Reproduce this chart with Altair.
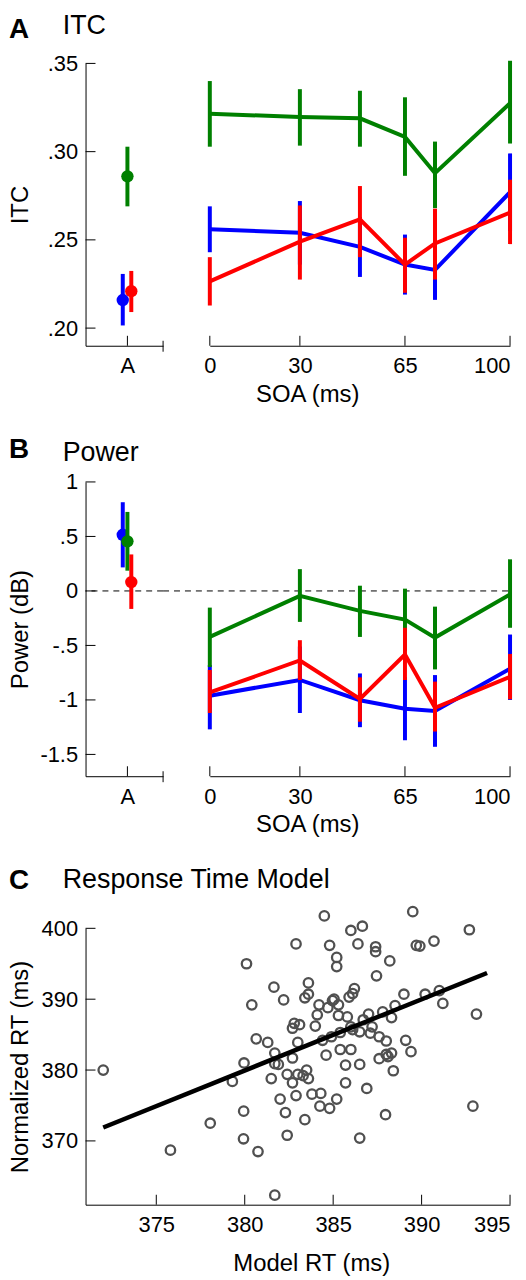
import altair as alt
import pandas as pd

FONT = "Liberation Sans"
conditions = ["Blue", "Green", "Red"]
colors = ["#0000FF", "#008000", "#FF0000"]

# ---------------- data ----------------
soa = [0, 30, 50, 65, 75, 100]
soa_ticks = [0, 30, 65, 100]

itc_blue = [0.256, 0.254, 0.246, 0.236, 0.233, 0.277]
itc_blue_lo = [0.243, 0.236, 0.229, 0.219, 0.216, 0.255]
itc_blue_hi = [0.269, 0.272, 0.263, 0.253, 0.251, 0.299]
itc_green = [0.3215, 0.3196, 0.3189, 0.3083, 0.2878, 0.3275]
itc_green_lo = [0.3028, 0.3034, 0.3028, 0.2863, 0.2680, 0.3046]
itc_green_hi = [0.3400, 0.3354, 0.3345, 0.3308, 0.3057, 0.3515]
itc_red = [0.2265, 0.2490, 0.2616, 0.2360, 0.2480, 0.2655]
itc_red_lo = [0.2128, 0.2275, 0.2402, 0.2200, 0.2275, 0.2476]
itc_red_hi = [0.2402, 0.2695, 0.2805, 0.2512, 0.2677, 0.2841]
itc_A = [0.2159, 0.2860, 0.2209]          # Blue, Green, Red at "A"
itc_A_lo = [0.2015, 0.2690, 0.2091]
itc_A_hi = [0.2307, 0.3028, 0.2324]
itc_ticks = [0.20, 0.25, 0.30, 0.35]

pow_blue = [-0.961, -0.817, -1.003, -1.081, -1.102, -0.713]
pow_blue_lo = [-1.27, -1.12, -1.25, -1.37, -1.43, -1.00]
pow_blue_hi = [-0.68, -0.51, -0.757, -0.79, -0.772, -0.40]
pow_green = [-0.422, -0.045, -0.183, -0.263, -0.428, -0.033]
pow_green_lo = [-0.698, -0.284, -0.422, -0.55, -0.72, -0.338]
pow_green_hi = [-0.153, 0.20, 0.048, 0.021, -0.144, 0.29]
pow_red = [-0.931, -0.638, -0.991, -0.584, -1.072, -0.787]
pow_red_lo = [-1.12, -0.817, -1.20, -0.817, -1.29, -0.994]
pow_red_hi = [-0.725, -0.452, -0.793, -0.338, -0.832, -0.578]
pow_A = [0.515, 0.455, 0.081]
pow_A_lo = [0.216, 0.186, -0.165]
pow_A_hi = [0.814, 0.725, 0.335]
pow_ticks = [-1.5, -1, -0.5, 0, 0.5, 1]

model_rt = [372.0, 375.8, 378.05, 379.3, 379.96, 379.94, 379.93, 380.1, 380.4, 380.65,
            380.75, 381.3, 381.5, 381.65, 381.7, 381.7, 381.9, 381.7, 382.0, 382.2,
            382.3, 382.4, 382.4, 382.7, 382.7, 382.7, 382.8, 382.9, 382.9, 383.0,
            383.1, 383.0, 383.3, 383.4, 383.5, 383.6, 383.6, 383.4, 383.6, 383.8,
            383.99, 384.1, 384.2, 384.3, 384.25, 384.4, 384.5, 384.6, 384.7, 384.8,
            384.8, 384.9, 384.96, 385.05, 385.2, 385.2, 385.2, 385.3, 385.3, 385.4,
            385.4, 385.7, 385.7, 385.8, 385.9, 386.0, 386.0, 386.0, 386.1, 386.2,
            386.1, 386.4, 386.5, 386.5, 386.5, 386.65, 386.7, 386.9, 387.0, 387.1,
            387.2, 387.4, 387.4, 387.45, 387.6, 387.6, 387.8, 387.96, 388.0, 388.0,
            388.1, 388.2, 388.3, 388.3, 388.4, 388.5, 389.0, 389.1, 389.4, 389.5,
            389.7, 389.9, 390.2, 390.7, 391.0, 391.2, 392.7, 392.9, 393.1]
norm_rt = [380.0, 368.7, 372.5, 378.4, 381.0, 374.2, 370.3, 395.0, 389.2, 384.4,
           368.5, 383.9, 378.8, 391.7, 382.4, 380.9, 380.8, 362.35, 375.9, 389.9,
           374.0, 379.4, 370.8, 381.7, 378.2, 385.9, 386.6, 397.8, 376.4, 383.9,
           386.4, 379.4, 379.2, 390.2, 380.0, 390.7, 392.3, 373.0, 378.8, 376.6,
           386.2, 387.8, 389.2, 376.7, 374.9, 384.2, 401.75, 382.1, 388.8, 397.6,
           374.6, 384.7, 389.8, 390.0, 375.9, 395.9, 394.6, 389.2, 387.7, 385.3,
           382.9, 380.7, 378.2, 387.5, 390.3, 399.7, 382.9, 386.1, 390.8, 391.5,
           385.7, 397.8, 380.8, 385.4, 370.4, 400.3, 387.1, 377.4, 387.9, 385.2,
           386.1, 397.4, 396.7, 393.3, 384.7, 381.6, 388.2, 373.7, 384.1, 382.2,
           381.9, 395.4, 387.4, 382.4, 379.9, 389.1, 390.7, 384.2, 382.6, 402.35,
           397.6, 397.5, 390.7, 398.2, 391.2, 389.4, 399.8, 374.9, 387.9]
fit_x = [372.0, 393.7]
fit_y = [371.9, 393.7]
rt_xticks = [375, 380, 385, 390, 395]
rt_yticks = [370, 380, 390, 400]

# ---------------- layout constants ----------------
W_LEFT, W_RIGHT, GAP = 78, 302, 47
W_C = W_LEFT + GAP + W_RIGHT
H_A, H_B, H_C = 284, 296, 278
TICK = 10


def soa_frame(series):
    rows = []
    for cond, (m, lo, hi) in zip(conditions, series):
        for s, a, b, c in zip(soa, m, lo, hi):
            rows.append({"cond": cond, "soa": s, "m": a, "lo": b, "hi": c})
    return pd.DataFrame(rows)


def a_frame(m, lo, hi):
    return pd.DataFrame({"cond": conditions, "m": m, "lo": lo, "hi": hi})


def titles(letter, word, dy_letter, dy_word):
    t1 = alt.Chart(pd.DataFrame({"t": [letter]})).mark_text(
        font=FONT, fontSize=28, fontWeight="bold", align="left", baseline="alphabetic", color="black"
    ).encode(x=alt.value(-77), y=alt.value(dy_letter), text="t:N")
    t2 = alt.Chart(pd.DataFrame({"t": [word]})).mark_text(
        font=FONT, fontSize=27, align="left", baseline="alphabetic", color="black"
    ).encode(x=alt.value(-23), y=alt.value(dy_word), text="t:N")
    return [t1, t2]


def last_right(v):
    return {"condition": {"test": f"datum.value == {v}", "value": "right"}, "value": "center"}


def left_panel(df, ydom, yticks, yexpr, ytitle, H, letter, word, dyl, dyw, zero_line=False):
    xs = alt.Scale(domain=[0, 1], nice=False, zero=False)
    ys = alt.Scale(domain=ydom, nice=False, zero=False)
    xaxis = alt.Axis(values=[0.54, 1.0], labelExpr="datum.value < 0.9 ? 'A' : ''",
                     title=None, labelPadding=10)
    yaxis = alt.Axis(values=yticks, labelExpr=yexpr, title=ytitle, titleX=-53, labelPadding=8)
    layers = []
    layers.append(alt.Chart(pd.DataFrame({"v": yticks})).mark_rule(color="black", strokeWidth=1).encode(
        y=alt.Y("v:Q", scale=ys, axis=yaxis), x=alt.value(0), x2=alt.value(TICK)))
    layers.append(alt.Chart(pd.DataFrame({"v": [0.54]})).mark_rule(color="black", strokeWidth=1).encode(
        x=alt.X("v:Q", scale=xs, axis=xaxis), y=alt.value(H), y2=alt.value(H - TICK)))
    layers.append(alt.Chart(pd.DataFrame({"v": [1.0]})).mark_rule(color="black", strokeWidth=1).encode(
        x=alt.X("v:Q", scale=xs, axis=xaxis), y=alt.value(H - 5), y2=alt.value(H + 6)))
    if zero_line:
        layers.append(alt.Chart(pd.DataFrame({"v": [0]})).mark_rule(
            color="black", strokeWidth=1, strokeDash=[6, 5]).encode(y=alt.Y("v:Q", scale=ys, axis=yaxis)))
    base = alt.Chart(df).transform_calculate(
        xp="0.54 + (datum.cond == 'Blue' ? -0.06 : (datum.cond == 'Red' ? 0.05 : 0))")
    for c, col in zip(conditions, colors):
        b = base.transform_filter(alt.datum.cond == c)
        layers.append(b.mark_rule(color=col, strokeWidth=4).encode(
            x=alt.X("xp:Q", scale=xs, axis=xaxis),
            y=alt.Y("lo:Q", scale=ys, axis=yaxis), y2="hi:Q"))
        layers.append(b.mark_circle(color=col, size=155, opacity=1).encode(
            x=alt.X("xp:Q", scale=xs, axis=xaxis),
            y=alt.Y("m:Q", scale=ys, axis=yaxis)))
    layers += titles(letter, word, dyl, dyw)
    return alt.layer(*layers).properties(width=W_LEFT, height=H)


def right_panel(df, ydom, H, tpad, zero_line=False):
    xs = alt.Scale(domain=[0, 100], nice=False, zero=False)
    ys = alt.Scale(domain=ydom, nice=False, zero=False)
    xaxis = alt.Axis(values=soa_ticks, title="SOA (ms)", titleX=98, titlePadding=tpad,
                     labelPadding=10, labelAlign=last_right(100))
    layers = []
    layers.append(alt.Chart(pd.DataFrame({"v": soa_ticks})).mark_rule(color="black", strokeWidth=1).encode(
        x=alt.X("v:Q", scale=xs, axis=xaxis), y=alt.value(H), y2=alt.value(H - TICK)))
    if zero_line:
        layers.append(alt.Chart(pd.DataFrame({"a": [-100.0 * GAP / W_RIGHT], "b": [100], "v": [0]})).mark_rule(
            color="black", strokeWidth=1, strokeDash=[6, 5]).encode(
            x=alt.X("a:Q", scale=xs, axis=xaxis), x2="b:Q", y=alt.Y("v:Q", scale=ys, axis=None)))
    for c, col in zip(conditions, colors):
        b = alt.Chart(df).transform_filter(alt.datum.cond == c)
        layers.append(b.mark_rule(color=col, strokeWidth=4).encode(
            x=alt.X("soa:Q", scale=xs, axis=xaxis),
            y=alt.Y("lo:Q", scale=ys, axis=None), y2="hi:Q"))
        layers.append(b.mark_line(color=col, strokeWidth=4).encode(
            x=alt.X("soa:Q", scale=xs, axis=xaxis),
            y=alt.Y("m:Q", scale=ys, axis=None)))
    return alt.layer(*layers).properties(width=W_RIGHT, height=H)


# ---------------- panel A ----------------
itc_df = soa_frame([(itc_blue, itc_blue_lo, itc_blue_hi),
                    (itc_green, itc_green_lo, itc_green_hi),
                    (itc_red, itc_red_lo, itc_red_hi)])
rowA = alt.hconcat(
    left_panel(a_frame(itc_A, itc_A_lo, itc_A_hi), [0.19, 0.35], itc_ticks,
               "replace(format(datum.value, '.2f'), '0.', '.')", "ITC", H_A,
               "A", "ITC", -26, -30),
    right_panel(itc_df, [0.19, 0.35], H_A, 6),
    spacing=GAP, bounds="flush")

# ---------------- panel B ----------------
pow_df = soa_frame([(pow_blue, pow_blue_lo, pow_blue_hi),
                    (pow_green, pow_green_lo, pow_green_hi),
                    (pow_red, pow_red_lo, pow_red_hi)])
rowB = alt.hconcat(
    left_panel(a_frame(pow_A, pow_A_lo, pow_A_hi), [-1.7, 1], pow_ticks,
               "replace(toString(datum.value), '0.', '.')", "Power (dB)", H_B,
               "B", "Power", -24, -21, zero_line=True),
    right_panel(pow_df, [-1.7, 1], H_B, 6, zero_line=True),
    spacing=GAP, bounds="flush")

# ---------------- panel C ----------------
xsC = alt.Scale(domain=[371, 395], nice=False, zero=False)
ysC = alt.Scale(domain=[361, 400], nice=False, zero=False)
xaxC = alt.Axis(values=rt_xticks, title="Model RT (ms)", titleX=227, titlePadding=16,
                labelPadding=10, labelAlign=last_right(395))
yaxC = alt.Axis(values=rt_yticks, title="Normalized RT (ms)", titleX=-53, labelPadding=8)
scatter_df = pd.DataFrame({"x": model_rt, "y": norm_rt})
fit_df = pd.DataFrame({"x": fit_x, "y": fit_y})
c_layers = [
    alt.Chart(pd.DataFrame({"v": rt_yticks})).mark_rule(color="black", strokeWidth=1).encode(
        y=alt.Y("v:Q", scale=ysC, axis=yaxC), x=alt.value(0), x2=alt.value(TICK)),
    alt.Chart(pd.DataFrame({"v": rt_xticks})).mark_rule(color="black", strokeWidth=1).encode(
        x=alt.X("v:Q", scale=xsC, axis=xaxC), y=alt.value(H_C), y2=alt.value(H_C - TICK)),
    alt.Chart(scatter_df).mark_point(shape="circle", filled=False, color="#505050",
                                     strokeWidth=2.3, size=90, opacity=1).encode(
        x=alt.X("x:Q", scale=xsC, axis=xaxC), y=alt.Y("y:Q", scale=ysC, axis=yaxC)),
    alt.Chart(fit_df).mark_line(color="black", strokeWidth=4.5).encode(
        x=alt.X("x:Q", scale=xsC, axis=xaxC), y=alt.Y("y:Q", scale=ysC, axis=yaxC)),
] + titles("C", "Response Time Model", -40, -41)
panelC = alt.layer(*c_layers).properties(width=W_C, height=H_C)

top = alt.vconcat(rowA, rowB, spacing=30)
chart = alt.vconcat(top, panelC, spacing=29).properties(padding=0)

chart = chart.configure_view(stroke=None).configure_axis(
    grid=False, domainColor="black", domainWidth=1, ticks=False, tickSize=0,
    labelFont=FONT, labelFontSize=22, labelColor="black",
    titleFont=FONT, titleFontSize=24, titleFontWeight="normal", titleColor="black",
)

chart.save("out.html", embed_options={"renderer": "svg", "actions": False})
